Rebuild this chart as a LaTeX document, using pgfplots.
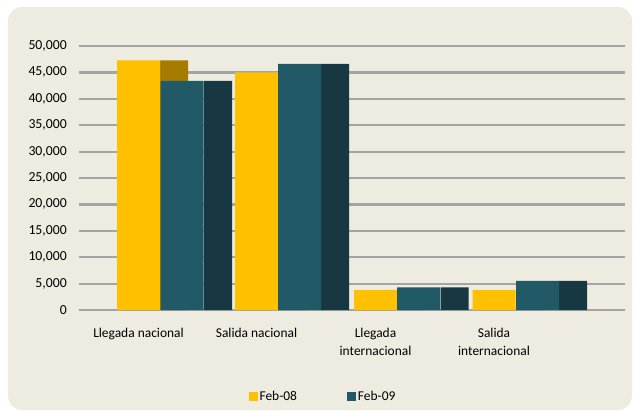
\documentclass[border=0pt]{standalone}
\usepackage{fontspec}
\setmainfont{Carlito}
\usepackage{pgfplots}
\pgfplotsset{compat=1.18}
\definecolor{bgc}{HTML}{EEEBE0}
\definecolor{yel}{HTML}{FFC000}
\definecolor{yelside}{HTML}{A67C00}
\definecolor{teal}{HTML}{215967}
\definecolor{tealside}{HTML}{173842}
\definecolor{gridc}{HTML}{A4A4A4}
\begin{document}
\fontsize{13.5}{16}\selectfont
\begin{tikzpicture}[x=1bp,y=1bp]
\fill[white] (-79,-102) rectangle (556,310);
\fill[bgc, rounded corners=14bp] (-71,-100) rectangle (553,303);
\begin{axis}[
  at={(0,0)}, anchor=south west,
  scale only axis, width=546bp, height=264bp,
  xmin=79, xmax=625, ymin=0, ymax=50000,
  clip=false,
  axis line style={draw=none},
  tick style={draw=none},
  ymajorgrids, grid style={gridc, line width=2.2bp},
  ytick={0,5000,...,50000},
  /pgf/number format/assume math mode=true,
  /pgf/number format/1000 sep={,},
  yticklabel style={anchor=east, inner sep=0pt, xshift=-12bp, font=\fontsize{13.8}{16}\selectfont},
  scaled y ticks=false,
  xtick={138.5,256.5,375.5,494},
  xticklabels={Llegada nacional, Salida nacional, Llegada\\internacional, Salida\\internacional},
  xticklabel style={anchor=north, align=center, inner sep=0pt, yshift=-18bp, font=\fontsize{13.5}{18.5}\selectfont},
  legend style={at={(rel axis cs:0.5,0)}, anchor=center, xshift=-29bp, yshift=-87bp, draw=none, fill=none, legend columns=2, font=\fontsize{13.5}{16}\selectfont, /tikz/every even column/.append style={column sep=48bp}},
  legend image code/.code={\fill[#1] (0bp,-4bp) rectangle (9bp,5bp);},
]
% yellow side faces
\addplot[ybar, bar width=28, bar shift=0pt, fill=yelside, draw=none, forget plot]
  coordinates {(174,47300) (292,45000) (411,3800) (530,3800)};
% yellow front
\addplot[ybar, bar width=43, bar shift=0pt, fill=yel, draw=none]
  coordinates {(138.5,47300) (256.5,45000) (375.5,3800) (494,3800)};
% teal side faces
\addplot[ybar, bar width=28, bar shift=0pt, fill=tealside, draw=none, forget plot]
  coordinates {(218,43400) (335,46600) (454.5,4300) (573,5500)};
% teal front
\addplot[ybar, bar width=43, bar shift=0pt, fill=teal, draw=none]
  coordinates {(182,43400) (299.5,46600) (418.5,4300) (537.5,5500)};
\legend{Feb-08, Feb-09}
\end{axis}
\end{tikzpicture}
\end{document}
